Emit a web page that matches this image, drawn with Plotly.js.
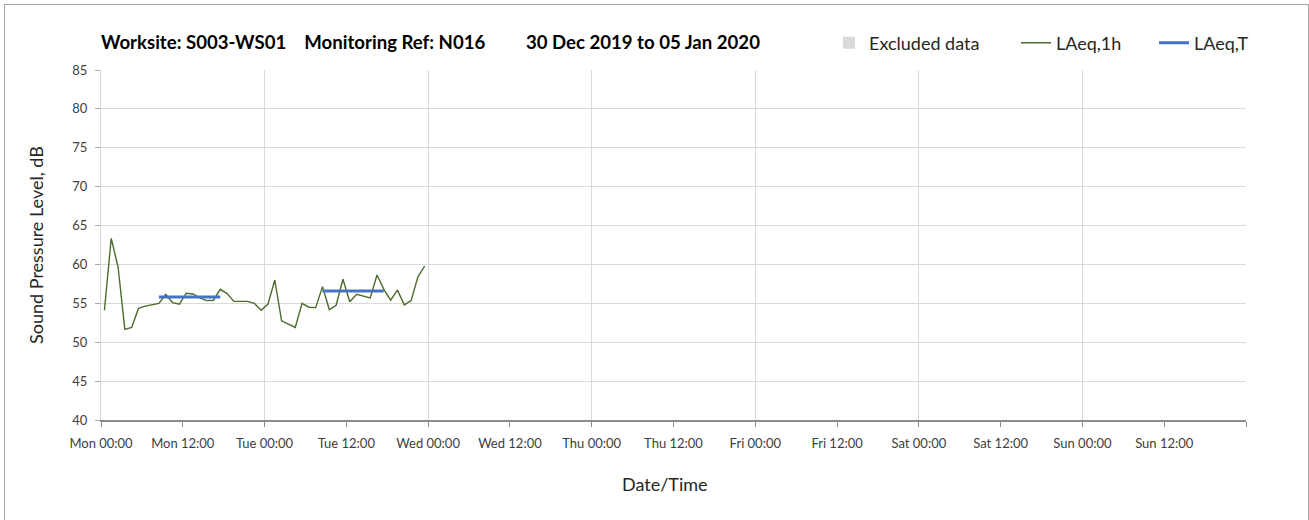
<!DOCTYPE html>
<html>
<head>
<meta charset="utf-8">
<script src="https://cdn.plot.ly/plotly-3.0.1.min.js"></script>
<style>
  html, body { margin: 0; padding: 0; background: #ffffff; overflow: hidden; }
  #chart { position: absolute; left: 0; top: 0; width: 1309px; height: 520px; }
  #frame { position: absolute; left: 4px; top: 4px; width: 1303px; height: 530px; border: 1px solid #a6a6a6; pointer-events: none; }
</style>
</head>
<body>
<div id="chart"></div>
<div id="frame"></div>
<script>
// ---- Data ----
const hourTimes = [
  "2019-12-30 00:30","2019-12-30 01:30","2019-12-30 02:30","2019-12-30 03:30","2019-12-30 04:30","2019-12-30 05:30",
  "2019-12-30 06:30","2019-12-30 07:30","2019-12-30 08:30","2019-12-30 09:30","2019-12-30 10:30","2019-12-30 11:30",
  "2019-12-30 12:30","2019-12-30 13:30","2019-12-30 14:30","2019-12-30 15:30","2019-12-30 16:30","2019-12-30 17:30",
  "2019-12-30 18:30","2019-12-30 19:30","2019-12-30 20:30","2019-12-30 21:30","2019-12-30 22:30","2019-12-30 23:30",
  "2019-12-31 00:30","2019-12-31 01:30","2019-12-31 02:30","2019-12-31 03:30","2019-12-31 04:30","2019-12-31 05:30",
  "2019-12-31 06:30","2019-12-31 07:30","2019-12-31 08:30","2019-12-31 09:30","2019-12-31 10:30","2019-12-31 11:30",
  "2019-12-31 12:30","2019-12-31 13:30","2019-12-31 14:30","2019-12-31 15:30","2019-12-31 16:30","2019-12-31 17:30",
  "2019-12-31 18:30","2019-12-31 19:30","2019-12-31 20:30","2019-12-31 21:30","2019-12-31 22:30","2019-12-31 23:30"
];
const laeq1h = [
  54.1, 63.35, 59.7, 51.65, 51.9, 54.35,
  54.65, 54.8, 55.0, 56.15, 55.1, 54.9,
  56.3, 56.2, 55.7, 55.35, 55.4, 56.8,
  56.25, 55.25, 55.25, 55.25, 55.0, 54.1,
  54.9, 58.0, 52.75, 52.35, 51.9, 55.0,
  54.5, 54.45, 57.15, 54.2, 54.75, 58.1,
  55.2, 56.15, 55.95, 55.7, 58.65, 56.8,
  55.4, 56.7, 54.8, 55.35, 58.4, 59.8
];
const periodStart = ["2019-12-30 08:30", "2019-12-31 08:30"];
const periodEnd   = ["2019-12-30 17:30", "2019-12-31 17:30"];
const laeqT       = [55.8, 56.6];

// no excluded periods in this week
const excludedTimes = [];
const excludedLevels = [];

const tickTimes = [
  "2019-12-30 00:00","2019-12-30 12:00","2019-12-31 00:00","2019-12-31 12:00",
  "2020-01-01 00:00","2020-01-01 12:00","2020-01-02 00:00","2020-01-02 12:00",
  "2020-01-03 00:00","2020-01-03 12:00","2020-01-04 00:00","2020-01-04 12:00",
  "2020-01-05 00:00","2020-01-05 12:00","2020-01-06 00:00"
];
const tickLabels = [
  "Mon 00:00","Mon 12:00","Tue 00:00","Tue 12:00",
  "Wed 00:00","Wed 12:00","Thu 00:00","Thu 12:00",
  "Fri 00:00","Fri 12:00","Sat 00:00","Sat 12:00",
  "Sun 00:00","Sun 12:00",""
];
const dayGridTimes = [
  "2019-12-30 00:00","2019-12-31 00:00","2020-01-01 00:00","2020-01-02 00:00",
  "2020-01-03 00:00","2020-01-04 00:00","2020-01-05 00:00","2020-01-06 00:00"
];
const xRange = ["2019-12-30 00:00", "2020-01-06 00:00"];
const yTicks = [40, 45, 50, 55, 60, 65, 70, 75, 80, 85];

// ---- Build traces ----
const tX = [], tY = [];
for (let i = 0; i < periodStart.length; i++) {
  tX.push(periodStart[i], periodEnd[i], null);
  tY.push(laeqT[i], laeqT[i], null);
}

const FONT = "Lato, 'Open Sans', sans-serif";
const LEGEND_FONT = { family: FONT, size: 18, color: "#262626" };

const traces = [
  {
    type: "bar", name: "Excluded data", legend: "legend",
    x: excludedTimes.length ? excludedTimes : [xRange[0]],
    y: excludedLevels.length ? excludedLevels : [null],
    marker: { color: "#d9d9d9", line: { width: 0 } },
    hoverinfo: "skip", showlegend: true
  },
  {
    type: "scatter", mode: "lines", name: "LAeq,1h", legend: "legend2",
    x: hourTimes, y: laeq1h,
    line: { color: "#4b6b2b", width: 1.4 }
  },
  {
    type: "scatter", mode: "lines", name: "LAeq,T", legend: "legend3",
    x: tX, y: tY,
    line: { color: "#4472c4", width: 3 }
  },
  {
    // carrier for the day gridline axis (draws nothing)
    type: "scatter", mode: "none", xaxis: "x2", yaxis: "y",
    x: xRange, y: [null, null],
    showlegend: false, hoverinfo: "skip"
  }
];

function legendAt(px) {
  return {
    orientation: "h",
    x: (px - 101) / 1145, xanchor: "left",
    y: 1.077, yanchor: "middle",
    font: LEGEND_FONT,
    bgcolor: "rgba(0,0,0,0)",
    itemwidth: 30
  };
}

const layout = {
  width: 1309, height: 520,
  margin: { l: 101, r: 63, t: 70, b: 100 },
  paper_bgcolor: "#ffffff", plot_bgcolor: "#ffffff",
  font: { family: FONT, color: "#404040" },
  title: {
    text: "<b>Worksite: S003-WS01\u00a0\u00a0\u00a0\u00a0Monitoring Ref: N016\u00a0\u00a0\u00a0\u00a0\u00a0\u00a0\u00a0\u00a0\u00a030 Dec 2019 to 05 Jan 2020</b>",
    font: { family: FONT, size: 18.6, color: "#000000" },
    xref: "paper", x: 0, xanchor: "left",
    yref: "container", y: 1 - 42 / 520, yanchor: "middle"
  },
  showlegend: true,
  legend: legendAt(829),
  legend2: legendAt(1016),
  legend3: legendAt(1154),
  xaxis: {
    type: "date",
    range: xRange,
    tickmode: "array", tickvals: tickTimes, ticktext: tickLabels,
    ticks: "outside", ticklen: 5, tickcolor: "#8c8c8c", tickwidth: 1,
    ticklabelstandoff: 6,
    showgrid: false, zeroline: false,
    showline: true, linecolor: "#8c8c8c", linewidth: 1.5,
    tickfont: { family: FONT, size: 13, color: "#404040" },
    automargin: false
  },
  xaxis2: {
    type: "date",
    overlaying: "x",
    anchor: "y",
    range: xRange,
    tickmode: "array", tickvals: dayGridTimes,
    showticklabels: false, ticks: "",
    showgrid: true, gridcolor: "#d9d9d9", gridwidth: 1,
    zeroline: false, showline: false
  },
  yaxis: {
    range: [40, 85],
    tickmode: "array", tickvals: yTicks,
    ticks: "outside", ticklen: 5, tickcolor: "#a6a6a6",
    ticklabelstandoff: 5,
    showgrid: true, gridcolor: "#d9d9d9", gridwidth: 1,
    zeroline: false,
    showline: true, linecolor: "#d9d9d9",
    tickfont: { family: FONT, size: 13, color: "#404040" },
    title: { text: "Sound Pressure Level, dB", font: { family: FONT, size: 18, color: "#262626" }, standoff: 24 },
    automargin: false
  },
  annotations: [
    {
      text: "Date/Time", showarrow: false,
      xref: "paper", x: (665 - 101) / 1145, xanchor: "center",
      yref: "paper", y: -(484 - 420) / 350, yanchor: "middle",
      font: { family: FONT, size: 18, color: "#262626" }
    }
  ]
};

Plotly.newPlot("chart", traces, layout, { displayModeBar: false, staticPlot: true });
</script>
</body>
</html>
